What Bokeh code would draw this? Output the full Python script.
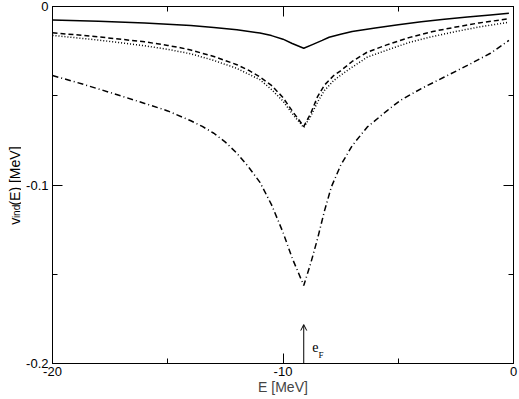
import math
from bokeh.plotting import figure
from bokeh.layouts import row
from bokeh.models import LinearAxis, FixedTicker, Label, Arrow, OpenHead, Range1d
from bokeh.core.properties import value
from bokeh.embed import file_html
from bokeh.resources import INLINE

# ---------------- data ----------------
E_solid = [-20, -18, -16, -14, -13, -12, -11, -10.5, -10, -9.6, -9.1, -8.7, -8.3, -8.0,
           -7.5, -7, -6, -5, -4, -3, -2, -1, -0.2]
v_solid = [-0.0075, -0.0083, -0.0093, -0.0107, -0.0117, -0.0130, -0.0149, -0.0163, -0.0183,
           -0.0207, -0.0234, -0.0212, -0.0190, -0.0172, -0.0155, -0.0140, -0.0120, -0.0102,
           -0.0086, -0.0072, -0.0059, -0.0047, -0.0038]

E_dashed = [-20, -18, -16, -15, -14.45, -14, -13, -12, -11.5, -11, -10.5, -10, -9.6, -9.1,
            -8.8, -8.5, -8.2, -7.8, -7.5, -7, -6.35, -5.5, -4.5, -3.5, -2.5, -1.5, -0.2]
v_dashed = [-0.0147, -0.0170, -0.0198, -0.0218, -0.0231, -0.0244, -0.0280, -0.0326, -0.0357,
            -0.0395, -0.0442, -0.0510, -0.0585, -0.0672, -0.0600, -0.0505, -0.0440, -0.0387,
            -0.0360, -0.0308, -0.0256, -0.0215, -0.0173, -0.0140, -0.0115, -0.0092, -0.0069]

E_dotted = [-20, -18, -16, -15, -14, -13, -12, -11, -10.5, -10, -9.6, -9.1, -8.8, -8.5, -8.2,
            -7.8, -7.5, -7, -6.35, -5.5, -4.5, -3.5, -2.5, -1.5, -0.2]
v_dotted = [-0.0162, -0.0188, -0.0220, -0.0240, -0.0265, -0.0302, -0.0347, -0.0410, -0.0465,
            -0.0530, -0.0600, -0.0678, -0.0615, -0.0535, -0.0470, -0.0415, -0.0385, -0.0340,
            -0.0284, -0.0245, -0.0200, -0.0168, -0.0140, -0.0115, -0.0088]

E_dashdot = [-20, -19, -18, -17, -16, -15, -14, -13.5, -13, -12.5, -12, -11.5, -11, -10.5,
             -10, -9.6, -9.1, -8.8, -8.5, -8.2, -7.9, -7.5, -7, -6.35, -5.48, -4.9, -4, -3,
             -2, -1, -0.2]
v_dashdot = [-0.0387, -0.0423, -0.0462, -0.0502, -0.0543, -0.0585, -0.0640, -0.0672, -0.0710,
             -0.0760, -0.0822, -0.0898, -0.0985, -0.1110, -0.1265, -0.1410, -0.1563, -0.1440,
             -0.1300, -0.1145, -0.1010, -0.0890, -0.0780, -0.0676, -0.0583, -0.0525, -0.0460,
             -0.0395, -0.0330, -0.0262, -0.0190]

e_fermi = -9.1

x_major = [-20, -10, 0]
x_minor = [-15, -5]
y_major = [-0.2, -0.1, 0]
y_minor = [-0.15, -0.05]
y_tick_labels = {-0.2: "-0.2", -0.1: "-0.1", 0: "0"}
x_tick_labels = {-20: "-20", -10: "-10", 0: "0"}

# y-axis title pieces (main text, subscript, rest)
ylab_parts = ["v", "ind", "(E) [MeV]"]

# ---------------- figure ----------------
FONT = "Liberation Sans"
LAB_W = 21
H = 399
p = figure(width=519 - LAB_W, height=H, output_backend="svg", toolbar_location=None,
           x_range=Range1d(-20, 0), y_range=Range1d(-0.2, 0),
           x_axis_location=None, y_axis_location=None,
           min_border_left=52 - LAB_W, min_border_right=6, min_border_top=6,
           min_border_bottom=36)
p.grid.visible = False
p.outline_line_color = "black"
p.outline_line_width = 1
p.background_fill_color = "white"
p.border_fill_color = "white"


def style_axis(ax, show_labels):
    ax.axis_line_color = "black"
    ax.axis_line_width = 1
    ax.major_tick_in = 10
    ax.major_tick_out = 0
    ax.minor_tick_in = 5
    ax.minor_tick_out = 0
    ax.major_tick_line_color = "black"
    ax.minor_tick_line_color = "black"
    ax.major_label_text_font = FONT
    ax.major_label_text_font_size = "13px" if show_labels else "0px"
    ax.major_label_text_color = "black" if show_labels else None
    ax.axis_label_text_font = FONT
    ax.axis_label_text_font_size = "14px"
    ax.axis_label_text_font_style = "normal"


xt = FixedTicker(ticks=x_major, minor_ticks=x_minor)
yt = FixedTicker(ticks=y_major, minor_ticks=y_minor)

xb = LinearAxis(ticker=xt, axis_label="E [MeV]", major_label_overrides=x_tick_labels)
style_axis(xb, True)
xb.major_label_standoff = 3
xb.axis_label_standoff = 0
p.add_layout(xb, "below")

xtop = LinearAxis(ticker=xt)
style_axis(xtop, False)
xtop.major_label_standoff = 0
p.add_layout(xtop, "above")

yl = LinearAxis(ticker=yt, major_label_overrides=y_tick_labels)
style_axis(yl, True)
yl.major_label_standoff = 4
p.add_layout(yl, "left")

yr = LinearAxis(ticker=yt)
style_axis(yr, False)
yr.major_label_standoff = 0
p.add_layout(yr, "right")

# ---------------- curves ----------------
p.line(E_solid, v_solid, line_color="black", line_width=1.5)
p.line(E_dashed, v_dashed, line_color="black", line_width=1.5, line_dash="5 3")
p.line(E_dotted, v_dotted, line_color="black", line_width=1.5, line_dash="1 2")
p.line(E_dashdot, v_dashdot, line_color="black", line_width=1.5, line_dash="6 3 1 3")

# ---------------- Fermi energy arrow ----------------
p.add_layout(Arrow(end=OpenHead(size=6, line_width=1, line_color="black"),
                   x_start=e_fermi, y_start=-0.2, x_end=e_fermi, y_end=-0.1782,
                   line_width=1, line_color="black"))
p.add_layout(Label(x=e_fermi + 0.37, y=-0.1910, text="e", text_font="Liberation Serif",
                   text_font_size="14px", text_color="black",
                   text_align="left", text_baseline="alphabetic"))
p.add_layout(Label(x=e_fermi + 0.64, y=-0.1955, text="F", text_font="Liberation Serif",
                   text_font_size="9px", text_color="black",
                   text_align="left", text_baseline="alphabetic"))

# ---------------- y axis title (with subscript) in a narrow side figure ----------------
# side figure coordinates: x = pixels from its left edge, y = pixels from its bottom edge
lab = figure(width=LAB_W, height=H, output_backend="svg", toolbar_location=None,
             x_range=Range1d(0, LAB_W), y_range=Range1d(0, H),
             x_axis_location=None, y_axis_location=None, min_border=0)
lab.grid.visible = False
lab.outline_line_color = None
lab.border_fill_color = "white"
lab.background_fill_color = "white"
ang = math.pi / 2
lab.text(x=[14], y=[H - 244], text=[ylab_parts[0]], angle=ang, text_font=value(FONT),
         text_font_size="14px", text_color="black", text_align="left",
         text_baseline="alphabetic")
lab.text(x=[16], y=[H - 236.5], text=[ylab_parts[1]], angle=ang, text_font=value(FONT),
         text_font_size="10px", text_color="black", text_align="left",
         text_baseline="alphabetic")
lab.text(x=[14], y=[H - 222.5], text=[ylab_parts[2]], angle=ang, text_font=value(FONT),
         text_font_size="14px", text_color="black", text_align="left",
         text_baseline="alphabetic")

layout = row(lab, p, spacing=0)
open("out.html", "w").write(file_html(layout, INLINE))
